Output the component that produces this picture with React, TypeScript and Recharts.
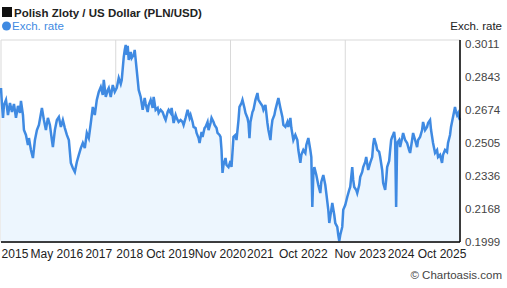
import React from "react";
import { AreaChart, Area, XAxis, YAxis, CartesianGrid } from "recharts";

// Time position along the 10-year span (0 = start, 460 = latest)
const samplePos = [
  0, 1, 2, 3, 5, 7, 9, 11, 13, 15, 17, 19, 20, 22, 23, 25, 27, 28, 30, 32,
  34, 36, 38, 41, 43, 45, 47, 49, 51, 52, 54, 56, 58, 60, 62, 64, 66, 68, 70, 72,
  74, 76, 78, 80, 82, 84, 86, 88, 90, 92, 94, 96, 98, 100, 102, 103, 105, 107, 108, 110,
  112, 114, 116, 118, 120, 121, 123, 124, 125, 126, 127, 128, 130, 131, 133, 134, 136, 137, 138, 140,
  142, 144, 145, 147, 148, 150, 152, 153, 155, 157, 158, 160, 162, 164, 165, 167, 168, 170, 171, 173,
  175, 176, 178, 180, 182, 183, 185, 187, 189, 190, 192, 193, 195, 196, 198, 199, 201, 202, 204, 205,
  207, 208, 210, 211, 213, 214, 216, 217, 219, 220, 221, 222, 223, 225, 226, 228, 230, 231, 233, 235,
  236, 238, 239, 241, 242, 244, 245, 247, 248, 249, 250, 252, 253, 255, 257, 258, 260, 262, 263, 265,
  267, 268, 270, 271, 272, 274, 275, 277, 278, 280, 282, 283, 285, 287, 288, 290, 291, 293, 295, 297,
  298, 300, 301, 303, 305, 306, 308, 310, 311, 312, 313, 314, 316, 318, 320, 321, 323, 325, 326, 328,
  329, 331, 332, 334, 335, 337, 338, 339, 340, 342, 343, 345, 347, 349, 350, 352, 353, 354, 356, 357,
  359, 360, 362, 363, 365, 366, 368, 370, 372, 373, 374, 376, 377, 379, 380, 382, 383, 385, 386, 387,
  389, 390, 391, 392, 393, 394, 395, 396, 397, 399, 400, 402, 403, 405, 407, 409, 410, 412, 413, 415,
  417, 418, 420, 422, 423, 425, 427, 428, 430, 431, 433, 434, 435, 437, 438, 440, 442, 443, 445, 447,
  448, 450, 451, 452, 453, 454, 455, 456, 457, 458, 459, 460,
];

// PLN/USD exchange rate
const plnUsd = [
  0.2786, 0.27, 0.2633, 0.2699, 0.2725, 0.2648, 0.2709, 0.2663, 0.2704, 0.2633, 0.2694, 0.2658, 0.272, 0.2648, 0.2571, 0.2546, 0.2495, 0.253, 0.2469, 0.2428,
  0.252, 0.2571, 0.2597, 0.2684, 0.2622, 0.2571, 0.2633, 0.2597, 0.252, 0.2484, 0.2571, 0.2622, 0.2638, 0.2587, 0.2622, 0.2581, 0.2546, 0.252, 0.2403, 0.2377,
  0.2357, 0.2408, 0.2444, 0.2479, 0.2505, 0.2479, 0.2556, 0.253, 0.2607, 0.2689, 0.2648, 0.2725, 0.2766, 0.2791, 0.275, 0.2827, 0.274, 0.2776, 0.2786, 0.274,
  0.2801, 0.2766, 0.2786, 0.2837, 0.2806, 0.2827, 0.2944, 0.298, 0.3006, 0.2955, 0.3001, 0.2929, 0.297, 0.2939, 0.2955, 0.298, 0.2878, 0.2827, 0.2776, 0.274,
  0.2674, 0.2735, 0.2704, 0.2663, 0.2699, 0.2725, 0.2684, 0.274, 0.2674, 0.2684, 0.2658, 0.2674, 0.2663, 0.2633, 0.2622, 0.2663, 0.2674, 0.2658, 0.2684, 0.2607,
  0.2648, 0.2633, 0.2612, 0.2622, 0.2612, 0.2597, 0.2633, 0.2674, 0.2633, 0.2648, 0.2612, 0.2587, 0.2581, 0.2556, 0.253, 0.2505, 0.2561, 0.2536, 0.2581, 0.2587,
  0.2612, 0.2571, 0.2607, 0.2633, 0.2612, 0.2597, 0.2581, 0.2556, 0.2546, 0.2536, 0.2469, 0.2352, 0.2393, 0.2428, 0.2393, 0.2382, 0.2413, 0.2382, 0.2536, 0.2546,
  0.252, 0.2622, 0.2689, 0.2709, 0.2725, 0.2684, 0.2658, 0.2633, 0.2607, 0.253, 0.2612, 0.2663, 0.2674, 0.2725, 0.276, 0.2725, 0.2709, 0.2694, 0.2674, 0.2699,
  0.2607, 0.2571, 0.252, 0.2581, 0.2622, 0.2648, 0.2674, 0.2715, 0.2735, 0.2684, 0.2638, 0.2597, 0.2587, 0.2612, 0.2587, 0.2633, 0.2581, 0.252, 0.2546, 0.252,
  0.2469, 0.2403, 0.2444, 0.2469, 0.2454, 0.2495, 0.253, 0.2469, 0.2433, 0.2178, 0.2341, 0.2382, 0.2341, 0.229, 0.2249, 0.2306, 0.2341, 0.229, 0.2249, 0.2163,
  0.2096, 0.2163, 0.2198, 0.2137, 0.2096, 0.2076, 0.2035, 0.2004, 0.2035, 0.2076, 0.2163, 0.2188, 0.2229, 0.2265, 0.228, 0.2382, 0.2316, 0.228, 0.2265, 0.2249,
  0.229, 0.2331, 0.2357, 0.2382, 0.2408, 0.2433, 0.2367, 0.2403, 0.2433, 0.2495, 0.253, 0.2495, 0.2469, 0.2459, 0.2433, 0.2367, 0.23, 0.2265, 0.2316, 0.2382,
  0.2413, 0.2469, 0.252, 0.2536, 0.2546, 0.2561, 0.252, 0.2178, 0.2505, 0.252, 0.2484, 0.253, 0.2556, 0.252, 0.2505, 0.2469, 0.2454, 0.252, 0.2556, 0.252,
  0.2484, 0.252, 0.2536, 0.2571, 0.2612, 0.2571, 0.2587, 0.2607, 0.2622, 0.2571, 0.2505, 0.2479, 0.2454, 0.2469, 0.2433, 0.2444, 0.2403, 0.2444, 0.2469, 0.2459,
  0.2505, 0.2546, 0.2587, 0.2612, 0.2638, 0.2663, 0.2689, 0.2663, 0.2648, 0.2658, 0.2633, 0.2622,
];

const xTickPos = [14, 56, 98, 129, 170, 220, 260, 303, 360, 401, 442];
const xTickLabels = ["2015", "May 2016", "2017", "2018", "Oct 2019", "Nov 2020", "2021", "Oct 2022", "Nov 2023", "2024", "Oct 2025"];
const xGridPos = [115, 230, 345];
const yTicks = [0.1999, 0.2168, 0.2336, 0.2505, 0.2674, 0.2843, 0.3011];
const yGridTicks = [0.2168, 0.2336, 0.2505, 0.2674, 0.2843];

const data = samplePos.map((t, i) => ({ t, rate: plnUsd[i] }));

const FONT = "Arial, 'Liberation Sans', sans-serif";
const Y_DOMAIN: [number, number] = [0.1999, 0.3031];
const LINE = "#3f8ae2";

export default function App() {
  return (
    <div style={{ position: "absolute", left: 0, top: 0, width: 507, height: 288, background: "#fff" }}>
      <AreaChart width={507} height={288} data={data} margin={{ top: 40, right: 0, bottom: 0, left: 1 }}>
        <XAxis
          xAxisId="main"
          type="number"
          dataKey="t"
          domain={[0, 460]}
          ticks={xTickPos}
          interval={0}
          tickFormatter={(v: number) => xTickLabels[xTickPos.indexOf(v)] ?? ""}
          tickLine={false}
          tickSize={0}
          tickMargin={7}
          height={46}
          axisLine={{ stroke: "#000", strokeWidth: 1.5 }}
          tick={{ fontSize: 12, fill: "#222", fontFamily: FONT }}
        />
        <YAxis
          yAxisId="main"
          orientation="right"
          type="number"
          domain={Y_DOMAIN}
          ticks={yTicks}
          interval={0}
          width={47}
          tickLine={false}
          tickSize={0}
          tickMargin={5}
          tickFormatter={(v: number) => v.toFixed(4)}
          axisLine={{ stroke: "#000", strokeWidth: 1.5 }}
          tick={{ fontSize: 11.5, fill: "#444", fontFamily: FONT, textAnchor: "start" }}
        />
        <YAxis
          yAxisId="left"
          orientation="left"
          type="number"
          domain={Y_DOMAIN}
          width={0}
          tick={false}
          tickLine={false}
          axisLine={{ stroke: "#000", strokeWidth: 2 }}
        />
        <XAxis xAxisId="grid" type="number" dataKey="t" domain={[0, 460]} ticks={xGridPos} height={0} hide />
        <YAxis yAxisId="grid" type="number" domain={Y_DOMAIN} ticks={yGridTicks} width={0} hide />
        <CartesianGrid xAxisId="grid" yAxisId="grid" stroke="#d9d9d9" strokeWidth={1} />
        <Area
          xAxisId="main"
          yAxisId="main"
          type="linear"
          dataKey="rate"
          stroke={LINE}
          strokeWidth={2.5}
          fill="#edf6fe"
          fillOpacity={1}
          dot={false}
          activeDot={false}
          isAnimationActive={false}
        />
      </AreaChart>
      <svg
        width={507}
        height={288}
        style={{ position: "absolute", left: 0, top: 0, pointerEvents: "none" }}
      >
        <rect x={2} y={7} width={10} height={10} fill="#111" />
        <text x={14} y={16.5} fontSize={11.5} fontWeight="bold" fill="#222" fontFamily={FONT}>
          Polish Zloty / US Dollar (PLN/USD)
        </text>
        <circle cx={6.5} cy={26} r={4.5} fill={LINE} />
        <text x={12} y={30} fontSize={11.5} fill={LINE} fontFamily={FONT}>
          Exch. rate
        </text>
        <text x={502} y={30} fontSize={11.5} fill="#222" fontFamily={FONT} textAnchor="end">
          Exch. rate
        </text>
        <text x={502} y={279} fontSize={11.5} fill="#444" fontFamily={FONT} textAnchor="end">
          © Chartoasis.com
        </text>
      </svg>
    </div>
  );
}
